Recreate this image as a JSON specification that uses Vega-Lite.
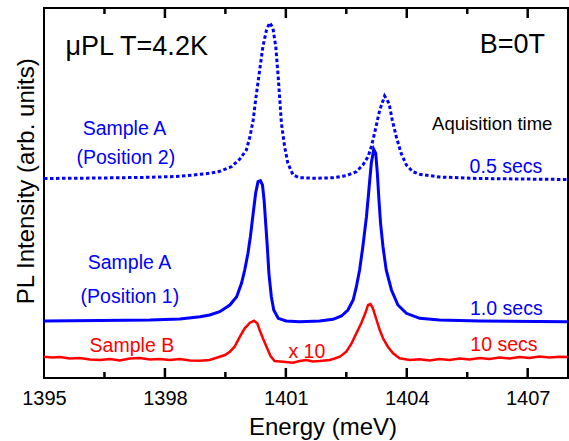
{
  "$schema": "https://vega.github.io/schema/vega-lite/v6.json",
  "width": 524,
  "height": 370,
  "autosize": {"type": "none"},
  "padding": {"left": 44, "top": 8, "right": 1, "bottom": 63},
  "background": "white",
  "config": {
    "view": {"stroke": "black", "strokeWidth": 2},
    "font": "Liberation Sans",
    "axis": {"grid": false, "domain": false, "labelColor": "black", "titleColor": "black", "labelFont": "Liberation Sans", "titleFont": "Liberation Sans", "titleFontWeight": "normal"}
  },
  "datasets": {
    "sampleA2": [
      {"energy": 1395.00, "intensity": 199.5}, {"energy": 1396.39, "intensity": 200}, {"energy": 1397.63, "intensity": 200.7},
      {"energy": 1398.37, "intensity": 201.7}, {"energy": 1398.87, "intensity": 203.7}, {"energy": 1399.11, "intensity": 204.7},
      {"energy": 1399.36, "intensity": 206.7}, {"energy": 1399.65, "intensity": 211.3}, {"energy": 1399.86, "intensity": 219},
      {"energy": 1400.02, "intensity": 228}, {"energy": 1400.11, "intensity": 241.3}, {"energy": 1400.19, "intensity": 258},
      {"energy": 1400.25, "intensity": 278}, {"energy": 1400.34, "intensity": 304.7}, {"energy": 1400.43, "intensity": 331.3},
      {"energy": 1400.52, "intensity": 348}, {"energy": 1400.60, "intensity": 355.3}, {"energy": 1400.68, "intensity": 349.7},
      {"energy": 1400.75, "intensity": 331.3}, {"energy": 1400.81, "intensity": 301.3}, {"energy": 1400.85, "intensity": 278},
      {"energy": 1400.89, "intensity": 254.7}, {"energy": 1400.97, "intensity": 231.3}, {"energy": 1401.05, "intensity": 214.7},
      {"energy": 1401.18, "intensity": 203}, {"energy": 1401.34, "intensity": 200.3}, {"energy": 1401.76, "intensity": 199.7},
      {"energy": 1402.17, "intensity": 200.3}, {"energy": 1402.50, "intensity": 202.3}, {"energy": 1402.75, "intensity": 206.3},
      {"energy": 1402.91, "intensity": 213}, {"energy": 1403.04, "intensity": 221.3}, {"energy": 1403.12, "intensity": 231.3},
      {"energy": 1403.20, "intensity": 244.7}, {"energy": 1403.33, "intensity": 268}, {"energy": 1403.45, "intensity": 282},
      {"energy": 1403.56, "intensity": 274.7}, {"energy": 1403.64, "intensity": 258}, {"energy": 1403.74, "intensity": 241.3},
      {"energy": 1403.86, "intensity": 224.7}, {"energy": 1403.99, "intensity": 213}, {"energy": 1404.15, "intensity": 206.3},
      {"energy": 1404.32, "intensity": 203.7}, {"energy": 1404.81, "intensity": 201}, {"energy": 1405.81, "intensity": 199.5},
      {"energy": 1406.80, "intensity": 199}, {"energy": 1408.00, "intensity": 198.5}
    ],
    "sampleA1": [
      {"energy": 1395.00, "intensity": 57}, {"energy": 1396.39, "intensity": 57.5}, {"energy": 1397.63, "intensity": 58},
      {"energy": 1398.37, "intensity": 59}, {"energy": 1398.87, "intensity": 61.3}, {"energy": 1399.11, "intensity": 63},
      {"energy": 1399.36, "intensity": 66.3}, {"energy": 1399.61, "intensity": 73}, {"energy": 1399.78, "intensity": 81.3},
      {"energy": 1399.90, "intensity": 94.7}, {"energy": 1399.98, "intensity": 108}, {"energy": 1400.06, "intensity": 124.7},
      {"energy": 1400.12, "intensity": 141.3}, {"energy": 1400.19, "intensity": 164.7}, {"energy": 1400.25, "intensity": 184.7},
      {"energy": 1400.31, "intensity": 196.3}, {"energy": 1400.37, "intensity": 197.3}, {"energy": 1400.42, "intensity": 193},
      {"energy": 1400.46, "intensity": 178}, {"energy": 1400.50, "intensity": 154.7}, {"energy": 1400.54, "intensity": 131.3},
      {"energy": 1400.58, "intensity": 104.7}, {"energy": 1400.64, "intensity": 81.3}, {"energy": 1400.70, "intensity": 68},
      {"energy": 1400.81, "intensity": 59.7}, {"energy": 1401.01, "intensity": 57}, {"energy": 1401.34, "intensity": 56.3},
      {"energy": 1401.84, "intensity": 57}, {"energy": 1402.17, "intensity": 58.7}, {"energy": 1402.38, "intensity": 62},
      {"energy": 1402.54, "intensity": 68}, {"energy": 1402.67, "intensity": 78}, {"energy": 1402.75, "intensity": 91.3},
      {"energy": 1402.83, "intensity": 108}, {"energy": 1402.91, "intensity": 131.3}, {"energy": 1403.00, "intensity": 161.3},
      {"energy": 1403.06, "intensity": 188}, {"energy": 1403.12, "intensity": 214.7}, {"energy": 1403.18, "intensity": 228.7},
      {"energy": 1403.23, "intensity": 224.7}, {"energy": 1403.27, "intensity": 204.7}, {"energy": 1403.31, "intensity": 178},
      {"energy": 1403.35, "intensity": 154.7}, {"energy": 1403.41, "intensity": 131.3}, {"energy": 1403.49, "intensity": 108},
      {"energy": 1403.62, "intensity": 88}, {"energy": 1403.78, "intensity": 73}, {"energy": 1403.99, "intensity": 64.7},
      {"energy": 1404.32, "intensity": 59.7}, {"energy": 1404.81, "intensity": 58}, {"energy": 1405.81, "intensity": 57},
      {"energy": 1408.00, "intensity": 56.3}
    ],
    "sampleB": [
      {"energy": 1395.00, "intensity": 21.3}, {"energy": 1395.20, "intensity": 20.5}, {"energy": 1395.40, "intensity": 21},
      {"energy": 1395.64, "intensity": 19.5}, {"energy": 1395.89, "intensity": 20}, {"energy": 1396.14, "intensity": 18.5},
      {"energy": 1396.39, "intensity": 18}, {"energy": 1396.64, "intensity": 19}, {"energy": 1396.88, "intensity": 17.5},
      {"energy": 1397.13, "intensity": 19.5}, {"energy": 1397.38, "intensity": 20}, {"energy": 1397.63, "intensity": 18.5},
      {"energy": 1397.87, "intensity": 19}, {"energy": 1398.12, "intensity": 18}, {"energy": 1398.37, "intensity": 19},
      {"energy": 1398.62, "intensity": 17.5}, {"energy": 1398.87, "intensity": 17.3}, {"energy": 1399.11, "intensity": 18},
      {"energy": 1399.36, "intensity": 21.3}, {"energy": 1399.49, "intensity": 23}, {"energy": 1399.61, "intensity": 26.3},
      {"energy": 1399.73, "intensity": 31.3}, {"energy": 1399.86, "intensity": 41.3}, {"energy": 1399.98, "intensity": 49.7},
      {"energy": 1400.11, "intensity": 55.3}, {"energy": 1400.21, "intensity": 57.3}, {"energy": 1400.29, "intensity": 54.7},
      {"energy": 1400.35, "intensity": 48}, {"energy": 1400.43, "intensity": 39.7}, {"energy": 1400.52, "intensity": 31.3},
      {"energy": 1400.62, "intensity": 22}, {"energy": 1400.72, "intensity": 17}, {"energy": 1400.93, "intensity": 16.3},
      {"energy": 1401.18, "intensity": 15.3}, {"energy": 1401.34, "intensity": 17}, {"energy": 1401.51, "intensity": 18},
      {"energy": 1401.67, "intensity": 16.5}, {"energy": 1401.84, "intensity": 17}, {"energy": 1402.09, "intensity": 18},
      {"energy": 1402.21, "intensity": 19.5}, {"energy": 1402.34, "intensity": 21.3}, {"energy": 1402.50, "intensity": 26.3},
      {"energy": 1402.63, "intensity": 34.7}, {"energy": 1402.75, "intensity": 44.7}, {"energy": 1402.87, "intensity": 54.7},
      {"energy": 1402.97, "intensity": 64.7}, {"energy": 1403.04, "intensity": 73}, {"energy": 1403.10, "intensity": 74},
      {"energy": 1403.16, "intensity": 69.7}, {"energy": 1403.25, "intensity": 58}, {"energy": 1403.33, "intensity": 48},
      {"energy": 1403.41, "intensity": 39.7}, {"energy": 1403.53, "intensity": 31.3}, {"energy": 1403.66, "intensity": 24.7},
      {"energy": 1403.82, "intensity": 19.7}, {"energy": 1404.07, "intensity": 18}, {"energy": 1404.32, "intensity": 18.7},
      {"energy": 1404.57, "intensity": 17.5}, {"energy": 1404.81, "intensity": 19}, {"energy": 1405.06, "intensity": 18},
      {"energy": 1405.31, "intensity": 19.5}, {"energy": 1405.56, "intensity": 18.5}, {"energy": 1405.81, "intensity": 20},
      {"energy": 1406.05, "intensity": 19}, {"energy": 1406.30, "intensity": 20.5}, {"energy": 1406.55, "intensity": 19.5},
      {"energy": 1406.80, "intensity": 21}, {"energy": 1407.04, "intensity": 20}, {"energy": 1407.29, "intensity": 21.5},
      {"energy": 1407.54, "intensity": 20.5}, {"energy": 1407.79, "intensity": 21.3}, {"energy": 1408.00, "intensity": 21}
    ],
    "tickmarks": [
      {"energy": 1396.5, "kind": "minor"}, {"energy": 1398, "kind": "major"},
      {"energy": 1399.5, "kind": "minor"}, {"energy": 1401, "kind": "major"}, {"energy": 1402.5, "kind": "minor"},
      {"energy": 1404, "kind": "major"}, {"energy": 1405.5, "kind": "minor"}, {"energy": 1407, "kind": "major"}
    ],
    "labels": [
      {"label": "μPL T=4.2K", "energy": 1397.30, "intensity": 323, "kind": "header"},
      {"label": "B=0T", "energy": 1406.62, "intensity": 325.3, "kind": "header"},
      {"label": "Aquisition time", "energy": 1406.12, "intensity": 248, "kind": "note"},
      {"label": "Sample A", "energy": 1396.995, "intensity": 243, "kind": "blue"},
      {"label": "(Position 2)", "energy": 1397.03, "intensity": 214, "kind": "blue"},
      {"label": "0.5 secs", "energy": 1406.46, "intensity": 205.3, "kind": "blue"},
      {"label": "Sample A", "energy": 1397.12, "intensity": 109, "kind": "blue"},
      {"label": "(Position 1)", "energy": 1397.13, "intensity": 75.3, "kind": "blue"},
      {"label": "1.0 secs", "energy": 1406.47, "intensity": 63, "kind": "blue"},
      {"label": "Sample B", "energy": 1397.18, "intensity": 26.3, "kind": "red"},
      {"label": "x 10", "energy": 1401.52, "intensity": 19.7, "kind": "red"},
      {"label": "10 secs", "energy": 1406.41, "intensity": 27.3, "kind": "red"}
    ]
  },
  "resolve": {"axis": {"x": "independent", "y": "independent"}},
  "layer": [
    {
      "data": {"name": "tickmarks"},
      "transform": [{"filter": "datum.kind == 'major'"}],
      "mark": {"type": "rule", "color": "black", "strokeWidth": 2.5},
      "encoding": {
        "x": {"field": "energy", "type": "quantitative", "scale": {"domain": [1395, 1408], "nice": false, "zero": false},
          "axis": {"orient": "bottom", "values": [1395, 1398, 1401, 1404, 1407], "format": "d",
            "offset": -8, "tickSize": 8, "ticks": true, "tickOpacity": 0, "labelPadding": 10,
            "labelFontSize": 20, "labelFlush": false, "labelOverlap": false,
            "title": "Energy (meV)", "titleFontSize": 24, "titleX": 278.5, "titleY": 64, "titleBaseline": "alphabetic"}},
        "y": {"datum": 0, "type": "quantitative", "scale": {"domain": [0, 370], "nice": false, "zero": false},
          "axis": {"orient": "left", "ticks": false, "labels": false, "domain": false, "title": "PL Intensity (arb. units)", "titleFontSize": 24,
            "titleX": -10.7, "titleY": 172.7, "titleAngle": -90, "titleBaseline": "alphabetic", "titleAlign": "center"}},
        "y2": {"datum": 10}
      }
    },
    {
      "data": {"name": "tickmarks"},
      "transform": [{"filter": "datum.kind == 'minor'"}],
      "mark": {"type": "rule", "color": "black", "strokeWidth": 2.5},
      "encoding": {
        "x": {"field": "energy", "type": "quantitative", "axis": null},
        "y": {"datum": 0, "type": "quantitative", "axis": null},
        "y2": {"datum": 6}
      }
    },
    {
      "data": {"name": "tickmarks"},
      "transform": [{"filter": "datum.kind == 'major'"}],
      "mark": {"type": "rule", "color": "black", "strokeWidth": 2.5},
      "encoding": {
        "x": {"field": "energy", "type": "quantitative", "axis": null},
        "y": {"datum": 370, "type": "quantitative", "axis": null},
        "y2": {"datum": 360}
      }
    },
    {
      "data": {"name": "tickmarks"},
      "transform": [{"filter": "datum.kind == 'minor'"}],
      "mark": {"type": "rule", "color": "black", "strokeWidth": 2.5},
      "encoding": {
        "x": {"field": "energy", "type": "quantitative", "axis": null},
        "y": {"datum": 370, "type": "quantitative", "axis": null},
        "y2": {"datum": 364}
      }
    },
    {
      "data": {"name": "sampleA2"},
      "mark": {"type": "line", "color": "#0000FF", "strokeWidth": 3, "strokeDash": [3.5, 2.5], "clip": true},
      "encoding": {
        "x": {"field": "energy", "type": "quantitative", "axis": null},
        "y": {"field": "intensity", "type": "quantitative", "axis": null}
      }
    },
    {
      "data": {"name": "sampleA1"},
      "mark": {"type": "line", "color": "#0000FF", "strokeWidth": 3, "clip": true},
      "encoding": {
        "x": {"field": "energy", "type": "quantitative", "axis": null},
        "y": {"field": "intensity", "type": "quantitative", "axis": null}
      }
    },
    {
      "data": {"name": "sampleB"},
      "mark": {"type": "line", "color": "#FF0000", "strokeWidth": 2.5, "clip": true},
      "encoding": {
        "x": {"field": "energy", "type": "quantitative", "axis": null},
        "y": {"field": "intensity", "type": "quantitative", "axis": null}
      }
    },
    {
      "data": {"name": "labels"},
      "transform": [{"filter": "datum.kind == 'header'"}],
      "mark": {"type": "text", "color": "black", "fontSize": 27, "align": "center", "baseline": "alphabetic"},
      "encoding": {
        "x": {"field": "energy", "type": "quantitative", "axis": null},
        "y": {"field": "intensity", "type": "quantitative", "axis": null},
        "text": {"field": "label"}
      }
    },
    {
      "data": {"name": "labels"},
      "transform": [{"filter": "datum.kind == 'note'"}],
      "mark": {"type": "text", "color": "black", "fontSize": 18.5, "align": "center", "baseline": "alphabetic"},
      "encoding": {
        "x": {"field": "energy", "type": "quantitative", "axis": null},
        "y": {"field": "intensity", "type": "quantitative", "axis": null},
        "text": {"field": "label"}
      }
    },
    {
      "data": {"name": "labels"},
      "transform": [{"filter": "datum.kind == 'blue'"}],
      "mark": {"type": "text", "color": "#0000FF", "fontSize": 19.5, "align": "center", "baseline": "alphabetic"},
      "encoding": {
        "x": {"field": "energy", "type": "quantitative", "axis": null},
        "y": {"field": "intensity", "type": "quantitative", "axis": null},
        "text": {"field": "label"}
      }
    },
    {
      "data": {"name": "labels"},
      "transform": [{"filter": "datum.kind == 'red'"}],
      "mark": {"type": "text", "color": "#FF0000", "fontSize": 19.5, "align": "center", "baseline": "alphabetic"},
      "encoding": {
        "x": {"field": "energy", "type": "quantitative", "axis": null},
        "y": {"field": "intensity", "type": "quantitative", "axis": null},
        "text": {"field": "label"}
      }
    }
  ]
}
